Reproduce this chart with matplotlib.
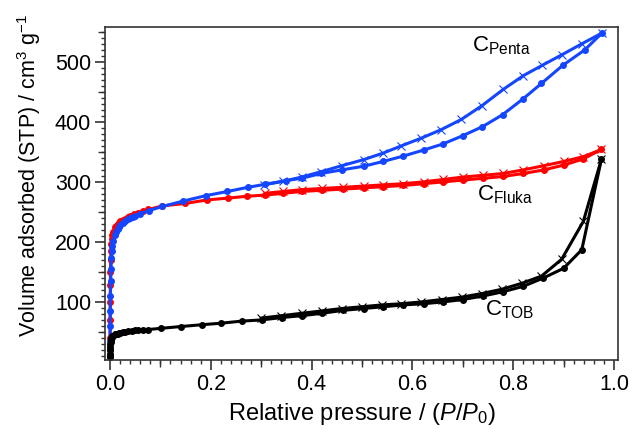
"""
Nitrogen sorption isotherms for three carbons (CPenta, CFluka, CTOB).
Filled circles: adsorption branch, crosses: desorption branch.
"""
import matplotlib
matplotlib.use("Agg")
import matplotlib.pyplot as plt
from matplotlib.ticker import MultipleLocator, NullFormatter

plt.rcParams["font.family"] = "Liberation Sans"
plt.rcParams["mathtext.fontset"] = "custom"
plt.rcParams["mathtext.rm"] = "Liberation Sans"
plt.rcParams["mathtext.it"] = "Liberation Sans:italic"

# CPenta (blue)
penta_ads_x = [0.0001, 0.0002, 0.0003, 0.0005, 0.0007, 0.001, 0.0015, 0.002, 0.003,
               0.004, 0.005, 0.007, 0.01, 0.0125, 0.015, 0.0175, 0.02, 0.025, 0.03,
               0.035, 0.04, 0.045, 0.05, 0.06, 0.077, 0.104, 0.145, 0.19, 0.233,
               0.274, 0.308, 0.349, 0.38, 0.419, 0.46, 0.503, 0.542, 0.582, 0.622,
               0.66, 0.70, 0.739, 0.779, 0.819, 0.856, 0.898, 0.942, 0.976]
penta_ads_y = [12, 20, 35, 60, 85, 110, 135, 155, 173,
               185, 194, 202, 212, 217, 222, 225, 228, 232, 235,
               238, 240, 242, 243, 247, 252, 259, 268, 277, 284,
               291, 296, 302, 306, 314, 320, 326, 334, 343, 353,
               363, 377, 392, 412, 438, 464, 494, 520, 548]
penta_des_x = [0.976, 0.936, 0.897, 0.857, 0.820, 0.780, 0.738, 0.697, 0.657,
               0.618, 0.578, 0.542, 0.503, 0.460, 0.419, 0.38, 0.344, 0.305]
penta_des_y = [548, 530, 512, 494, 477, 454, 427, 404, 387,
               373, 360, 348, 337, 327, 317, 308, 301, 295]

# CFluka (red)
fluka_ads_x = [0.0002, 0.0003, 0.0005, 0.0007, 0.001, 0.0015, 0.002, 0.003, 0.004,
               0.005, 0.007, 0.01, 0.0125, 0.015, 0.0175, 0.02, 0.025, 0.03, 0.035,
               0.04, 0.048, 0.056, 0.066, 0.076, 0.104, 0.149, 0.193, 0.235, 0.271,
               0.308, 0.344, 0.38, 0.42, 0.463, 0.503, 0.542, 0.582, 0.622, 0.661,
               0.70, 0.741, 0.78, 0.82, 0.861, 0.90, 0.938, 0.975]
fluka_ads_y = [40, 70, 100, 128, 150, 170, 185, 197, 205,
               211, 217, 224, 227, 230, 232, 234, 236, 238, 241,
               243, 246, 248, 251, 254, 260, 264, 270, 273, 276,
               278, 281, 284, 286, 288, 290, 292, 294, 297, 300,
               303, 306, 309, 314, 320, 328, 338, 354]
fluka_des_x = [0.975, 0.939, 0.90, 0.861, 0.82, 0.78, 0.741, 0.70, 0.661,
               0.622, 0.582, 0.542, 0.503, 0.463, 0.42, 0.38, 0.344, 0.308]
fluka_des_y = [354, 342, 334, 327, 320, 314, 311, 308, 304,
               300, 297, 295, 293, 291, 289, 287, 284, 281]

# CTOB (black)
tob_ads_x = [0.0001, 0.0002, 0.0003, 0.0005, 0.0007, 0.001, 0.0015, 0.002, 0.003,
             0.004, 0.005, 0.007, 0.01, 0.0125, 0.015, 0.0175, 0.02, 0.025, 0.03,
             0.036, 0.043, 0.05, 0.056, 0.066, 0.076, 0.101, 0.141, 0.182, 0.220,
             0.261, 0.301, 0.341, 0.38, 0.42, 0.463, 0.503, 0.542, 0.582, 0.622,
             0.661, 0.70, 0.741, 0.78, 0.82, 0.86, 0.90, 0.936, 0.975]
tob_ads_y = [8, 10, 14, 20, 25, 30, 34, 37, 39.5,
             41, 42.5, 44, 46, 46.5, 47, 48, 48.5, 49.5, 50,
             51, 52, 52.5, 53, 53.5, 54, 56, 59, 62, 64.5,
             68, 70, 74, 77, 81, 86, 89, 92, 95, 97,
             100, 104, 110, 117, 126, 140, 156, 187, 338]
tob_des_x = [0.975, 0.939, 0.896, 0.856, 0.817, 0.777, 0.738, 0.698, 0.658,
             0.618, 0.578, 0.54, 0.50, 0.46, 0.42, 0.38, 0.34, 0.30]
tob_des_y = [338, 234, 171, 143, 131, 121, 114, 108, 104,
             100, 97, 95, 92, 89, 85, 81, 77, 73]

BLUE = "#1446ff"
RED = "#ff0000"
BLACK = "#000000"
GREY = "#333333"

fig = plt.figure(figsize=(6.32, 4.36), dpi=100)
ax = fig.add_axes([0.166, 0.174, 0.812, 0.764])

series = [
    (fluka_ads_x, fluka_ads_y, fluka_des_x, fluka_des_y, RED),
    (penta_ads_x, penta_ads_y, penta_des_x, penta_des_y, BLUE),
    (tob_ads_x, tob_ads_y, tob_des_x, tob_des_y, BLACK),
]
for a_x, a_y, d_x, d_y, col in series:
    ax.plot(d_x, d_y, color=col, lw=2.2, marker="x", ms=6, mew=0.8)
    ax.plot(a_x, a_y, color=col, lw=2.2, marker="o", ms=4)

ax.set_xlim(-0.01, 1.008)
ax.set_ylim(3, 558)

# three tick levels: major, medium (secondary axis), minor
ax.xaxis.set_minor_locator(MultipleLocator(0.02))
ax.yaxis.set_major_locator(MultipleLocator(100))
ax.yaxis.set_minor_locator(MultipleLocator(10))
ax.set_xticks([0.0, 0.2, 0.4, 0.6, 0.8, 1.0], ["0.0", "0.2", "0.4", "0.6", "0.8", "1.0"])
ax.tick_params(which="major", direction="out", length=7, width=1.2, color=GREY,
               labelsize=15.5, pad=3, top=False, right=False)
ax.tick_params(which="minor", direction="out", length=3, width=1.0, color=GREY,
               top=False, right=False)

secx = ax.secondary_xaxis("bottom")
secx.set_xticks([0.1, 0.3, 0.5, 0.7, 0.9])
secx.xaxis.set_major_formatter(NullFormatter())
secx.tick_params(direction="out", length=5, width=1.0, color=GREY)
secx.spines["bottom"].set_visible(False)
secy = ax.secondary_yaxis("left")
secy.set_yticks([50, 150, 250, 350, 450, 550])
secy.yaxis.set_major_formatter(NullFormatter())
secy.tick_params(direction="out", length=5, width=1.0, color=GREY)
secy.spines["left"].set_visible(False)

for sp in ax.spines.values():
    sp.set_color(GREY)
    sp.set_linewidth(1.2)

ax.set_xlabel("Relative pressure / ($\\it{P}$/$\\it{P}_0$)", fontsize=17, labelpad=4)
ax.set_ylabel("Volume adsorbed (STP) / cm$^{3}$ g$^{-1}$", fontsize=15.5)
ax.yaxis.set_label_coords(-0.12, 0.555)

ax.text(0.718, 527, "C$_{\\mathrm{Penta}}$", fontsize=16, va="center", ha="left")
ax.text(0.728, 278, "C$_{\\mathrm{Fluka}}$", fontsize=16, va="center", ha="left")
ax.text(0.744, 87, "C$_{\\mathrm{TOB}}$", fontsize=16, va="center", ha="left")

fig.savefig("out.png", dpi=100)
